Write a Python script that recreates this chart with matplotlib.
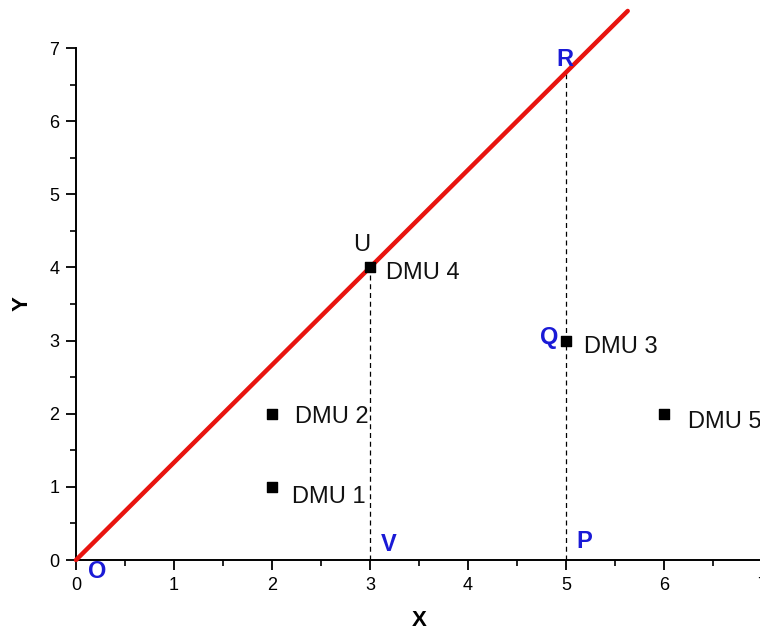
import matplotlib
matplotlib.use("Agg")
import matplotlib.pyplot as plt
from matplotlib.ticker import MultipleLocator

plt.rcParams['font.family'] = ['Liberation Sans', 'DejaVu Sans']

# data
dmu_names = ["DMU 1", "DMU 2", "DMU 3", "DMU 4", "DMU 5"]
dmu_x = [2, 2, 5, 3, 6]
dmu_y = [1, 2, 3, 4, 2]
frontier_x = [0, 5.63]
frontier_slope = 4 / 3
proj_x = [3, 5]
proj_top = [4, 20 / 3]

fig = plt.figure(figsize=(7.6, 6.35), dpi=100)
ax = fig.add_axes([0.1, 0.1181, 0.9026, 0.8063])
ax.set_xlim(0, 7)
ax.set_ylim(0, 7)

# frontier line
fy = [frontier_slope * v for v in frontier_x]
ax.plot(frontier_x, fy, color='#e8140f', lw=3.2, solid_capstyle='round',
        clip_on=False, zorder=3)

# dashed projection lines
for px, top in zip(proj_x, proj_top):
    ax.plot([px, px], [0, top], ls=(0, (4, 3)), color='black', lw=0.9, zorder=2)

# points
ax.scatter(dmu_x, dmu_y, marker='s', s=45, color='black', zorder=4)

offsets = {
    "DMU 1": (0.2, -0.14),
    "DMU 2": (0.23, -0.05),
    "DMU 3": (0.18, -0.09),
    "DMU 4": (0.16, -0.08),
    "DMU 5": (0.25, -0.11),
}
for n, x, y in zip(dmu_names, dmu_x, dmu_y):
    dx, dy = offsets[n]
    ax.text(x + dx, y + dy, n, fontsize=17, ha='left', va='center', color='#111111')

ax.text(2.92, 4.3, "U", fontsize=17, ha='center', va='center', color='#111111')

blue = '#1a1ad6'
for lab, x, y in [("O", 0.22, -0.16), ("V", 3.19, 0.21), ("P", 5.19, 0.25),
                  ("Q", 4.83, 3.04), ("R", 4.99, 6.84)]:
    ax.text(x, y, lab, fontsize=17, fontweight='bold', ha='center', va='center',
            color=blue, clip_on=False)

# axes styling
for s in ['top', 'right']:
    ax.spines[s].set_visible(False)
for s in ['left', 'bottom']:
    ax.spines[s].set_linewidth(1.4)
ax.xaxis.set_major_locator(MultipleLocator(1))
ax.yaxis.set_major_locator(MultipleLocator(1))
ax.xaxis.set_minor_locator(MultipleLocator(0.5))
ax.yaxis.set_minor_locator(MultipleLocator(0.5))
ax.tick_params(which='major', direction='out', length=7, width=1.3, labelsize=13, pad=5)
ax.tick_params(which='minor', direction='out', length=4.3, width=1.2)

ax.set_xlabel("X", fontsize=16, fontweight='bold', labelpad=12)
ax.set_ylabel("Y", fontsize=16, fontweight='bold', labelpad=12)

fig.savefig("out.png", dpi=100)
